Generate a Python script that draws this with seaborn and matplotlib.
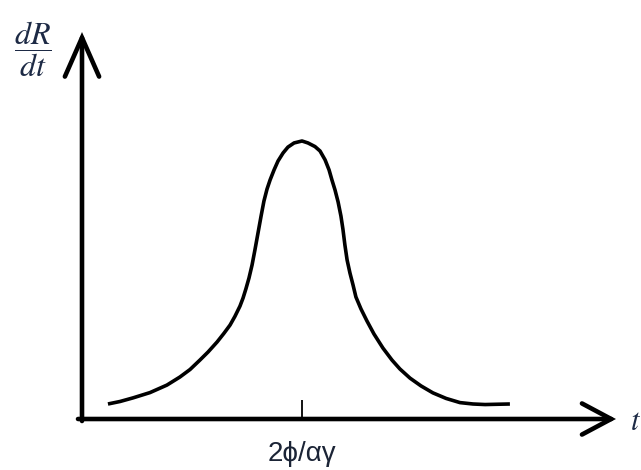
import matplotlib
matplotlib.use("Agg")
import matplotlib.pyplot as plt
import seaborn as sns
import pandas as pd

# Rate of change dR/dt against time t (peak placed at t = 2ϕ/αγ = 1)
t_values = [0.118, 0.173, 0.232, 0.309, 0.386, 0.445, 0.491, 0.536, 0.573,
            0.614, 0.645, 0.673, 0.695, 0.718, 0.732, 0.745, 0.759, 0.773,
            0.786, 0.800, 0.814, 0.827, 0.841, 0.855, 0.873, 0.891, 0.914,
            0.936, 0.964, 1.000,
            1.027, 1.059, 1.082, 1.105, 1.123, 1.136, 1.150, 1.164, 1.177,
            1.186, 1.195, 1.205, 1.218, 1.232, 1.245, 1.268, 1.295, 1.327,
            1.368, 1.409, 1.445, 1.491, 1.541, 1.595, 1.655, 1.718, 1.777,
            1.832, 1.886, 1.945]
rate_values = [0.054, 0.063, 0.076, 0.095, 0.122, 0.151, 0.178, 0.212, 0.241,
               0.277, 0.308, 0.338, 0.369, 0.406, 0.435, 0.468, 0.507, 0.554,
               0.608, 0.669, 0.730, 0.784, 0.827, 0.860, 0.896, 0.928, 0.957,
               0.978, 0.993, 1.000,
               0.993, 0.980, 0.964, 0.932, 0.896, 0.860, 0.824, 0.781, 0.730,
               0.683, 0.626, 0.572, 0.525, 0.482, 0.439, 0.396, 0.353, 0.306,
               0.255, 0.212, 0.180, 0.147, 0.119, 0.094, 0.074, 0.059, 0.054,
               0.052, 0.053, 0.054]
peak_time = 1.0
tick_labels = ["2ϕ/αγ"]

df = pd.DataFrame({"t": t_values, "rate": rate_values})

sns.set_theme(style="white")
plt.rcParams["mathtext.fontset"] = "stix"

fig = plt.figure(figsize=(6.41, 4.70), dpi=100)
fig.patch.set_facecolor("white")
ax = fig.add_axes([0, 0, 1, 1])
ax.set_facecolor("white")

sx, sy = 220.0, 278.0  # pixels per data unit
ax.set_xlim(-82 / sx, (641 - 82) / sx)
ax.set_ylim(-(470 - 419) / sy, 419 / sy)

sns.lineplot(data=df, x="t", y="rate", ax=ax, color="black", lw=2.6,
             solid_capstyle="butt", solid_joinstyle="round")

# Axes drawn as arrows from the origin
ink = "black"
ax.annotate("", xy=(0, (419 - 32) / sy), xytext=(0, -2 / sy),
            arrowprops=dict(arrowstyle="->,head_length=2.0,head_width=0.88",
                            lw=3.3, color=ink, mutation_scale=14,
                            shrinkA=0, shrinkB=0, joinstyle="miter"),
            annotation_clip=False)
ax.annotate("", xy=((616 - 82) / sx, 0), xytext=(-4 / sx, 0),
            arrowprops=dict(arrowstyle="->,head_length=1.5,head_width=0.8",
                            lw=3.3, color=ink, mutation_scale=14,
                            shrinkA=0, shrinkB=0, joinstyle="miter"),
            annotation_clip=False)

# Single tick marking the peak time
for s in ax.spines.values():
    s.set_visible(False)
ax.spines["bottom"].set_position(("data", 0))
ax.set_xticks([peak_time], labels=tick_labels)
ax.set_yticks([])
ax.tick_params(axis="x", direction="in", length=14, width=1.3, color="black",
               pad=16, labelsize=20, labelcolor="#1b2436", bottom=True)
for lab in ax.get_xticklabels():
    lab.set_fontfamily("Liberation Sans")
ax.set_xlabel("")
ax.set_ylabel("")

# Axis names
text_color = "#1d2a45"
fig.text(33 / 641, 1 - 49 / 470, r"$\dfrac{dR}{dt}$", ha="center", va="center",
         fontsize=23, color=text_color)
fig.text(630 / 641, 1 - 421 / 470, r"$t$", ha="left", va="center",
         fontsize=22, color=text_color)

fig.savefig("out.png", dpi=100, facecolor="white")
